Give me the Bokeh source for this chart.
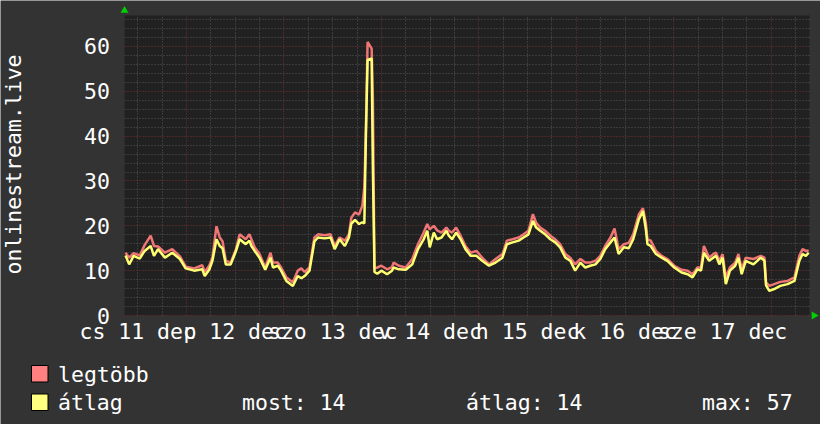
from bokeh.plotting import figure
from bokeh.models import Range1d, FixedTicker, Grid
from bokeh.core.properties import value
from bokeh.embed import file_html
from bokeh.resources import INLINE
import math

# ---- data (hours since 11 Dec 00:00) ----
hours = [9.0, 9.9, 11.0, 12.5, 13.7, 15.2, 16.0, 17.0, 18.7, 20.5, 22.4, 23.8,
         25.9, 27.9, 28.5, 29.6, 30.4, 31.4, 32.2, 32.9, 33.7, 34.9, 36.2, 37.1,
         38.6, 39.5, 40.0, 40.8, 42.0, 43.4, 44.7, 45.3, 46.5, 47.3, 48.6, 50.2,
         51.4, 52.3, 53.1, 54.3, 55.5, 56.4, 58.0, 59.5, 60.5, 61.7, 63.0, 64.0,
         64.6, 65.5, 66.5, 67.3, 67.8, 68.2, 68.6, 69.6, 69.9, 70.3, 71.0, 72.0,
         73.4, 74.6, 75.0, 76.3, 78.0, 79.6, 81.0, 82.4, 83.3, 83.9, 84.9, 85.7,
         86.8, 88.0, 88.6, 89.4, 90.4, 91.5, 92.7, 94.0, 95.4, 96.8, 98.5, 100.1,
         101.8, 102.9, 104.3, 105.8, 107.0, 108.2, 109.3, 110.1, 111.1, 112.3, 113.6, 114.8,
         116.0, 117.3, 118.5, 119.7, 121.0, 122.2, 123.4, 124.7, 125.9, 127.1, 128.4, 129.4,
         130.4, 131.7, 132.9, 134.0, 135.4, 136.4, 137.1, 137.5, 138.3, 139.6, 141.0, 142.4,
         144.1, 145.9, 147.4, 148.6, 149.8, 150.7, 151.4, 152.7, 153.7, 154.4, 155.2, 156.0,
         156.8, 157.8, 159.1, 159.9, 160.7, 161.7, 163.6, 165.4, 166.3, 166.7, 167.5, 168.7,
         170.2, 172.0, 173.7, 174.9, 175.7, 176.5, 177.2]

legtobb = [14.0, 12.9, 13.9, 13.4, 15.7, 17.8, 15.5, 15.4, 14.0, 14.8, 13.2, 10.9,
           10.5, 11.2, 9.7, 11.1, 12.9, 19.9, 17.4, 16.5, 12.2, 11.8, 14.8, 18.1,
           17.0, 18.1, 17.0, 15.2, 13.7, 10.7, 14.0, 11.8, 11.8, 10.7, 8.5, 7.4,
           10.0, 10.5, 9.7, 10.7, 17.4, 18.1, 17.9, 18.1, 15.5, 17.4, 16.7, 18.1,
           21.8, 23.0, 22.5, 24.5, 28.5, 42.0, 61.0, 59.5, 48.7, 10.5, 10.7, 11.1,
           10.3, 10.8, 11.8, 11.1, 10.7, 12.6, 15.9, 18.5, 20.4, 19.2, 20.0, 19.0,
           18.5, 19.6, 18.9, 18.5, 19.6, 17.8, 15.5, 14.0, 14.4, 12.9, 11.4, 12.6,
           13.7, 16.7, 17.0, 17.4, 18.1, 18.9, 22.6, 20.7, 19.6, 18.9, 17.8, 17.0,
           15.9, 13.7, 12.9, 11.4, 12.6, 11.8, 11.8, 12.2, 13.3, 15.5, 17.4, 19.4,
           14.8, 15.9, 16.2, 18.1, 22.6, 23.9, 20.7, 17.0, 16.7, 14.4, 13.3, 12.6,
           11.1, 10.2, 10.0, 9.2, 10.7, 10.7, 15.5, 12.9, 13.7, 14.0, 12.2, 13.7,
           8.5, 10.7, 11.8, 13.7, 10.4, 12.9, 12.6, 13.3, 12.9, 7.4, 6.6, 7.0,
           7.5, 7.7, 8.5, 13.3, 14.8, 14.4, 14.5]

atlag = [13.4, 11.4, 13.3, 12.7, 14.4, 15.5, 13.3, 14.8, 12.9, 14.0, 12.6, 10.5,
         10.0, 10.3, 8.8, 10.2, 12.2, 17.0, 15.5, 15.0, 11.4, 11.4, 14.4, 17.0,
         15.9, 16.7, 15.5, 14.4, 12.9, 10.2, 12.9, 10.7, 11.1, 10.0, 7.7, 6.6,
         8.8, 8.3, 8.8, 10.0, 16.5, 17.4, 17.2, 17.4, 14.8, 17.0, 15.5, 17.4,
         20.5, 21.3, 20.4, 20.8, 20.5, 41.0, 57.0, 57.3, 33.0, 9.7, 9.3, 10.0,
         9.2, 10.0, 10.7, 10.3, 10.2, 11.4, 14.8, 17.0, 18.9, 15.2, 18.5, 17.0,
         17.4, 18.9, 17.8, 17.0, 18.5, 17.0, 14.8, 13.3, 13.3, 12.2, 11.1, 11.8,
         12.9, 15.9, 16.3, 16.7, 17.4, 18.1, 21.1, 19.6, 18.9, 18.1, 17.0, 16.3,
         15.2, 12.9, 12.2, 10.0, 11.8, 10.7, 11.1, 11.4, 12.6, 14.8, 16.3, 17.4,
         13.7, 15.2, 15.0, 17.0, 21.5, 23.3, 19.3, 15.9, 15.5, 13.7, 12.9, 12.2,
         10.7, 9.6, 9.2, 8.5, 10.3, 10.0, 14.0, 12.2, 12.9, 13.3, 11.4, 12.9,
         7.0, 10.0, 11.1, 12.9, 9.2, 12.2, 11.4, 12.9, 12.2, 6.7, 5.5, 5.9,
         6.6, 7.0, 7.7, 12.2, 13.7, 13.3, 14.0]

label_hours = [12, 36, 60, 84, 108, 132, 156]
day_labels = ["cs 11 dec", "p 12 dec", "szo 13 dec", "v 14 dec",
              "h 15 dec", "k 16 dec", "sze 17 dec"]
midnights = [24, 48, 72, 96, 120, 144, 168]
six_hours = [12, 18, 30, 36, 42, 54, 60, 66, 78, 84, 90, 102, 108, 114,
             126, 132, 138, 150, 156, 162, 174]
y_major = [0, 10, 20, 30, 40, 50, 60]
y_minor = [2, 4, 6, 8, 12, 14, 16, 18, 22, 24, 26, 28, 32, 34, 36, 38,
           42, 44, 46, 48, 52, 54, 56, 58, 62, 64, 66]
y_title = "onlinestream.live"

series_names = ["legtöbb", "átlag"]
stat_labels = ["most: 14", "átlag: 14", "max: 57"]

# ---- layout constants (page pixels; figure sits at page x=0, y=0) ----
X_START, X_END = 8.75, 177.4          # plot area time span (hours)
Y_END = 66.9                          # plot area top value
AREA_L, AREA_R, AREA_T, AREA_B = 124, 809, 15, 315
OX, OY = 0, 0
FIG_W, FIG_H = 820, 424
PXH = (AREA_R - AREA_L) / (X_END - X_START)
PXV = (AREA_B - AREA_T) / Y_END
FONT = "DejaVu Sans Mono"
FS = "21.5px"
RED = "#f07676"
YEL = "#ffff72"
BG = "#333333"
PLOT_BG = "#212121"
WHITE = "#ffffff"


def tx(px):
    return X_START + (px - AREA_L) / PXH


def vy(py):
    return (AREA_B - py) / PXV


p = figure(width=FIG_W, height=FIG_H, output_backend="svg", toolbar_location=None,
           x_range=Range1d(tx(OX), tx(OX + FIG_W)),
           y_range=Range1d(vy(OY + FIG_H), vy(OY)),
           x_axis_location=None, y_axis_location=None,
           min_border=0, min_border_left=0, min_border_right=0,
           min_border_top=0, min_border_bottom=0,
           background_fill_color=BG, border_fill_color=BG,
           outline_line_color=None)
for g in p.grid:
    g.visible = False

# dark plotting area (drawn beneath the grid)
p.quad(left=[X_START], right=[X_END], bottom=[0], top=[Y_END],
       fill_color=PLOT_BG, line_color=None, level="image")

# grids: red dotted at major steps, grey dotted at minor steps
for dim, major, minor, cb in ((0, midnights, six_hours, (0, Y_END)),
                              (1, y_major, y_minor, (X_START, X_END))):
    g = Grid(dimension=dim, ticker=FixedTicker(ticks=major, minor_ticks=minor),
             cross_bounds=cb,
             grid_line_color="#7c3030", grid_line_dash="1 2",
             minor_grid_line_color="#565656", minor_grid_line_dash="1 2")
    p.add_layout(g)

txt = dict(text_font=value(FONT), text_font_size=value(FS), text_color=WHITE,
           text_baseline="middle")

# tick labels and axis title
p.text(x=label_hours, y=[vy(331)] * len(label_hours), text=day_labels,
       text_align="center", **txt)
p.text(x=[tx(109.5)] * len(y_major), y=y_major, text=[str(v) for v in y_major],
       text_align="right", **txt)
p.text(x=[tx(12.6)], y=[vy(164)], text=[y_title], angle=math.pi / 2,
       text_align="center", **txt)

# data lines
p.line(hours, legtobb, line_color=RED, line_width=2.5)
p.line(hours, atlag, line_color=YEL, line_width=2.5)

# axis arrows
p.scatter(x=[X_START], y=[vy(10)], marker="triangle", size=8,
          fill_color="#00d000", line_color=None)
p.scatter(x=[tx(813.5)], y=[0], marker="triangle", size=8, angle=-math.pi / 2,
          fill_color="#00d000", line_color=None)

# legend
p.quad(left=[tx(31)] * 2, right=[tx(47.5)] * 2, top=[vy(365), vy(393.5)],
       bottom=[vy(381.5), vy(410)],
       fill_color=["#ff8080", "#ffff80"], line_color="#000000", line_width=1)
p.text(x=[tx(57.5)] * 2, y=[vy(373.6), vy(401.9)], text=series_names,
       text_align="left", **txt)
p.text(x=[tx(241.5), tx(465.5), tx(701.5)], y=[vy(401.9)] * 3, text=stat_labels,
       text_align="left", **txt)

html = file_html(p, INLINE)
html = html.replace("<body>", '<body style="background-color:#333333;">', 1)
open("out.html", "w").write(html)
